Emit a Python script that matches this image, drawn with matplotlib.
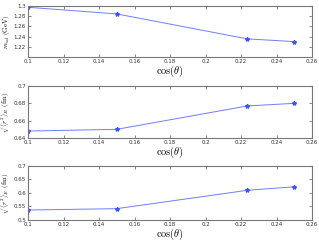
import matplotlib
matplotlib.use('Agg')
import matplotlib.pyplot as plt

# Дані
cos_theta = [0.1, 0.15, 0.2236, 0.25]
m_sol = [1.2975, 1.2845, 1.2355, 1.2302]
r_b = [0.648, 0.650, 0.677, 0.680]
r_e = [0.537, 0.542, 0.610, 0.623]

x_ticks = [0.1, 0.12, 0.14, 0.16, 0.18, 0.2, 0.22, 0.24, 0.26]
x_tick_labels = ['0.1', '0.12', '0.14', '0.16', '0.18', '0.2', '0.22', '0.24', '0.26']

plt.rcParams['mathtext.fontset'] = 'cm'

fig = plt.figure(figsize=(3.19, 2.42), dpi=100)

panels = [
    (m_sol, r'$m_{\rm sol}\ ({\rm GeV})$', (1.2, 1.3), [1.22, 1.24, 1.26, 1.28, 1.3],
     ['1.22', '1.24', '1.26', '1.28', '1.3'], 6, 57),
    (r_b, r'$\sqrt{\langle r^2\rangle_B}\ ({\rm fm})$', (0.64, 0.7), [0.64, 0.66, 0.68, 0.7],
     ['0.64', '0.66', '0.68', '0.7'], 86, 138),
    (r_e, r'$\sqrt{\langle r^2\rangle_E}\ ({\rm fm})$', (0.5, 0.7), [0.5, 0.55, 0.6, 0.65, 0.7],
     ['0.5', '0.55', '0.6', '0.65', '0.7'], 166, 220),
]

W, H = 319, 242
for vals, ylabel, ylim, yticks, ytl, top, bottom in panels:
    ax = fig.add_axes([28 / W, 1 - bottom / H, (312 - 28) / W, (bottom - top) / H])
    ax.plot(cos_theta, vals, color='#6f7dff', linewidth=0.7, marker='*',
            markersize=3, markeredgecolor='#3a55ff', markerfacecolor='#3a55ff')
    ax.set_xlim(0.1, 0.26)
    ax.set_ylim(*ylim)
    ax.set_xticks(x_ticks)
    ax.set_xticklabels(x_tick_labels)
    ax.set_yticks(yticks)
    ax.set_yticklabels(ytl)
    ax.tick_params(direction='in', length=2, width=0.5, labelsize=4, pad=1.5,
                   top=True, right=True, colors='#555555', labelcolor='#333333')
    for s in ax.spines.values():
        s.set_color('#777777')
        s.set_linewidth(0.8)
    ax.set_xlabel(r'$\cos(\theta)$', fontsize=7.5, labelpad=0)
    ax.set_ylabel(ylabel, fontsize=5)
    ax.yaxis.set_label_coords(-0.055, 0.5)

plt.savefig('out.png', dpi=100)
